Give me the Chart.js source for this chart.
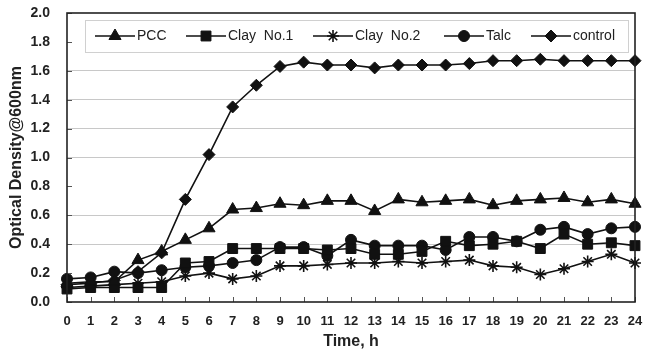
<!DOCTYPE html>
<html>
<head>
<meta charset="utf-8">
<script src="https://cdn.jsdelivr.net/npm/chart.js@4/dist/chart.umd.min.js"></script>
<style>
  html, body { margin: 0; padding: 0; background: #fff; }
  #wrap { width: 646px; height: 355px; }
</style>
</head>
<body>
<div id="wrap"><canvas id="chart" width="646" height="355"></canvas></div>
<script>
// time points (h)
const hours = ["0","1","2","3","4","5","6","7","8","9","10","11","12","13","14","15","16","17","18","19","20","21","22","23","24"];

// optical density at 600 nm
const pcc     = [0.13, 0.14, 0.14, 0.29, 0.35, 0.43, 0.51, 0.64, 0.65, 0.68, 0.67, 0.70, 0.70, 0.63, 0.71, 0.69, 0.70, 0.71, 0.67, 0.70, 0.71, 0.72, 0.69, 0.71, 0.68];
const clay1   = [0.09, 0.10, 0.10, 0.10, 0.10, 0.27, 0.28, 0.37, 0.37, 0.37, 0.37, 0.36, 0.37, 0.33, 0.33, 0.35, 0.42, 0.39, 0.40, 0.42, 0.37, 0.47, 0.40, 0.41, 0.39];
const clay2   = [0.10, 0.11, 0.12, 0.13, 0.14, 0.18, 0.20, 0.16, 0.18, 0.25, 0.25, 0.26, 0.27, 0.27, 0.28, 0.27, 0.28, 0.29, 0.25, 0.24, 0.19, 0.23, 0.28, 0.33, 0.27];
const talc    = [0.16, 0.17, 0.21, 0.20, 0.22, 0.24, 0.25, 0.27, 0.29, 0.38, 0.38, 0.32, 0.43, 0.39, 0.39, 0.39, 0.36, 0.45, 0.45, 0.42, 0.50, 0.52, 0.47, 0.51, 0.52];
const control = [0.12, 0.13, 0.15, 0.21, 0.34, 0.71, 1.02, 1.35, 1.50, 1.63, 1.66, 1.64, 1.64, 1.62, 1.64, 1.64, 1.64, 1.65, 1.67, 1.67, 1.68, 1.67, 1.67, 1.67, 1.67];

const seriesNames = ["PCC", "Clay  No.1", "Clay  No.2", "Talc", "control"];
const yTicks = [0, 0.2, 0.4, 0.6, 0.8, 1.0, 1.2, 1.4, 1.6, 1.8, 2.0];

const markers = [
  { style: "triangle", r: 7 },
  { style: "rect", r: 7 },
  { style: "star", r: 6 },
  { style: "circle", r: 5.5 },
  { style: "rectRot", r: 6 }
];

const ink = "#111";

function series(i, values) {
  return {
    label: seriesNames[i],
    data: values,
    borderColor: ink,
    backgroundColor: ink,
    borderWidth: 1.6,
    pointStyle: markers[i].style,
    pointRadius: markers[i].r,
    pointHoverRadius: markers[i].r,
    pointBorderWidth: markers[i].style === "star" ? 1.6 : 1,
    pointBackgroundColor: ink,
    pointBorderColor: ink,
    tension: 0
  };
}

// frame round the plot area plus the small inward tick marks
const framePlugin = {
  id: "frame",
  afterDraw(chart) {
    const { ctx, chartArea: a, scales } = chart;
    ctx.save();
    ctx.strokeStyle = "#555";
    ctx.lineWidth = 1;
    scales.x.ticks.forEach((t, i) => {
      const x = Math.round(scales.x.getPixelForTick(i)) + 0.5;
      ctx.beginPath();
      ctx.moveTo(x, a.bottom);
      ctx.lineTo(x, a.bottom - 5);
      ctx.stroke();
    });
    yTicks.forEach(v => {
      const y = Math.round(scales.y.getPixelForValue(v)) + 0.5;
      ctx.beginPath();
      ctx.moveTo(a.left, y);
      ctx.lineTo(a.left + 5, y);
      ctx.stroke();
    });
    ctx.strokeStyle = "#222";
    ctx.lineWidth = 1.6;
    ctx.strokeRect(a.left, a.top, a.right - a.left, a.bottom - a.top);
    ctx.restore();
  }
};

// legend inside the plot: short line with the marker, then the name
const legendPlugin = {
  id: "lineLegend",
  afterDatasetsDraw(chart) {
    const ctx = chart.ctx;
    const box = { x: 85, y: 20, w: 543, h: 32 };
    const starts = [95, 186, 313, 444, 531];
    ctx.save();
    ctx.fillStyle = "#fff";
    ctx.fillRect(box.x, box.y, box.w, box.h);
    ctx.strokeStyle = "#d0d0d0";
    ctx.lineWidth = 1;
    ctx.strokeRect(box.x + 0.5, box.y + 0.5, box.w, box.h);
    const cy = box.y + box.h / 2;
    chart.data.datasets.forEach((ds, i) => {
      const x0 = starts[i];
      ctx.strokeStyle = ink;
      ctx.lineWidth = 1.6;
      ctx.beginPath();
      ctx.moveTo(x0, cy);
      ctx.lineTo(x0 + 40, cy);
      ctx.stroke();
      ctx.fillStyle = ink;
      ctx.strokeStyle = ink;
      ctx.lineWidth = ds.pointBorderWidth;
      Chart.helpers.drawPoint(ctx, {
        pointStyle: ds.pointStyle,
        radius: ds.pointRadius,
        rotation: 0,
        borderWidth: ds.pointBorderWidth
      }, x0 + 20, cy);
      ctx.fillStyle = "#222";
      ctx.font = "14px 'Liberation Sans', Arial, sans-serif";
      ctx.textBaseline = "middle";
      ctx.fillText(ds.label, x0 + 42, cy);
    });
    ctx.restore();
  }
};

const ctx = document.getElementById("chart").getContext("2d");
new Chart(ctx, {
  type: "line",
  data: {
    labels: hours,
    datasets: [
      series(0, pcc),
      series(1, clay1),
      series(2, clay2),
      series(3, talc),
      series(4, control)
    ]
  },
  options: {
    responsive: false,
    animation: false,
    layout: { padding: { left: 0, right: 11, top: 13, bottom: 0 } },
    plugins: {
      legend: { display: false },
      tooltip: { enabled: false }
    },
    scales: {
      x: {
        offset: false,
        grid: { display: false, drawTicks: false },
        border: { display: false },
        ticks: {
          padding: 12,
          maxRotation: 0,
          autoSkip: false,
          color: "#222",
          font: { family: "'Liberation Sans', Arial, sans-serif", size: 13, weight: "bold" }
        },
        title: {
          display: true,
          text: "Time, h",
          color: "#222",
          padding: { top: 0, bottom: 4 },
          font: { family: "'Liberation Sans', Arial, sans-serif", size: 16, weight: "bold" }
        },
        afterFit(scale) {
          scale.height = 53;
          scale.paddingLeft = 0;
          scale.paddingRight = 0;
        }
      },
      y: {
        min: 0,
        max: 2,
        afterBuildTicks(scale) { scale.ticks = yTicks.map(v => ({ value: v })); },
        grid: {
          drawTicks: false,
          lineWidth: 1,
          color(c) {
            const v = Math.round((c.tick ? c.tick.value : 0) * 10) / 10;
            return (v === 0.2 || v === 0.8 || v === 1.8 || v === 0 || v === 2) ? "rgba(0,0,0,0)" : "#c8c8c8";
          }
        },
        border: { display: false },
        ticks: {
          padding: 17,
          color: "#222",
          callback: v => Number(v).toFixed(1),
          font: { family: "'Liberation Sans', Arial, sans-serif", size: 14, weight: "bold" }
        },
        title: {
          display: true,
          text: "Optical Density@600nm",
          color: "#222",
          padding: { top: 7, bottom: 0 },
          font: { family: "'Liberation Sans', Arial, sans-serif", size: 16, weight: "bold" }
        },
        afterFit(scale) {
          scale.width = 67;
          scale.paddingTop = 0;
          scale.paddingBottom = 0;
        }
      }
    }
  },
  plugins: [framePlugin, legendPlugin]
});
</script>
</body>
</html>
